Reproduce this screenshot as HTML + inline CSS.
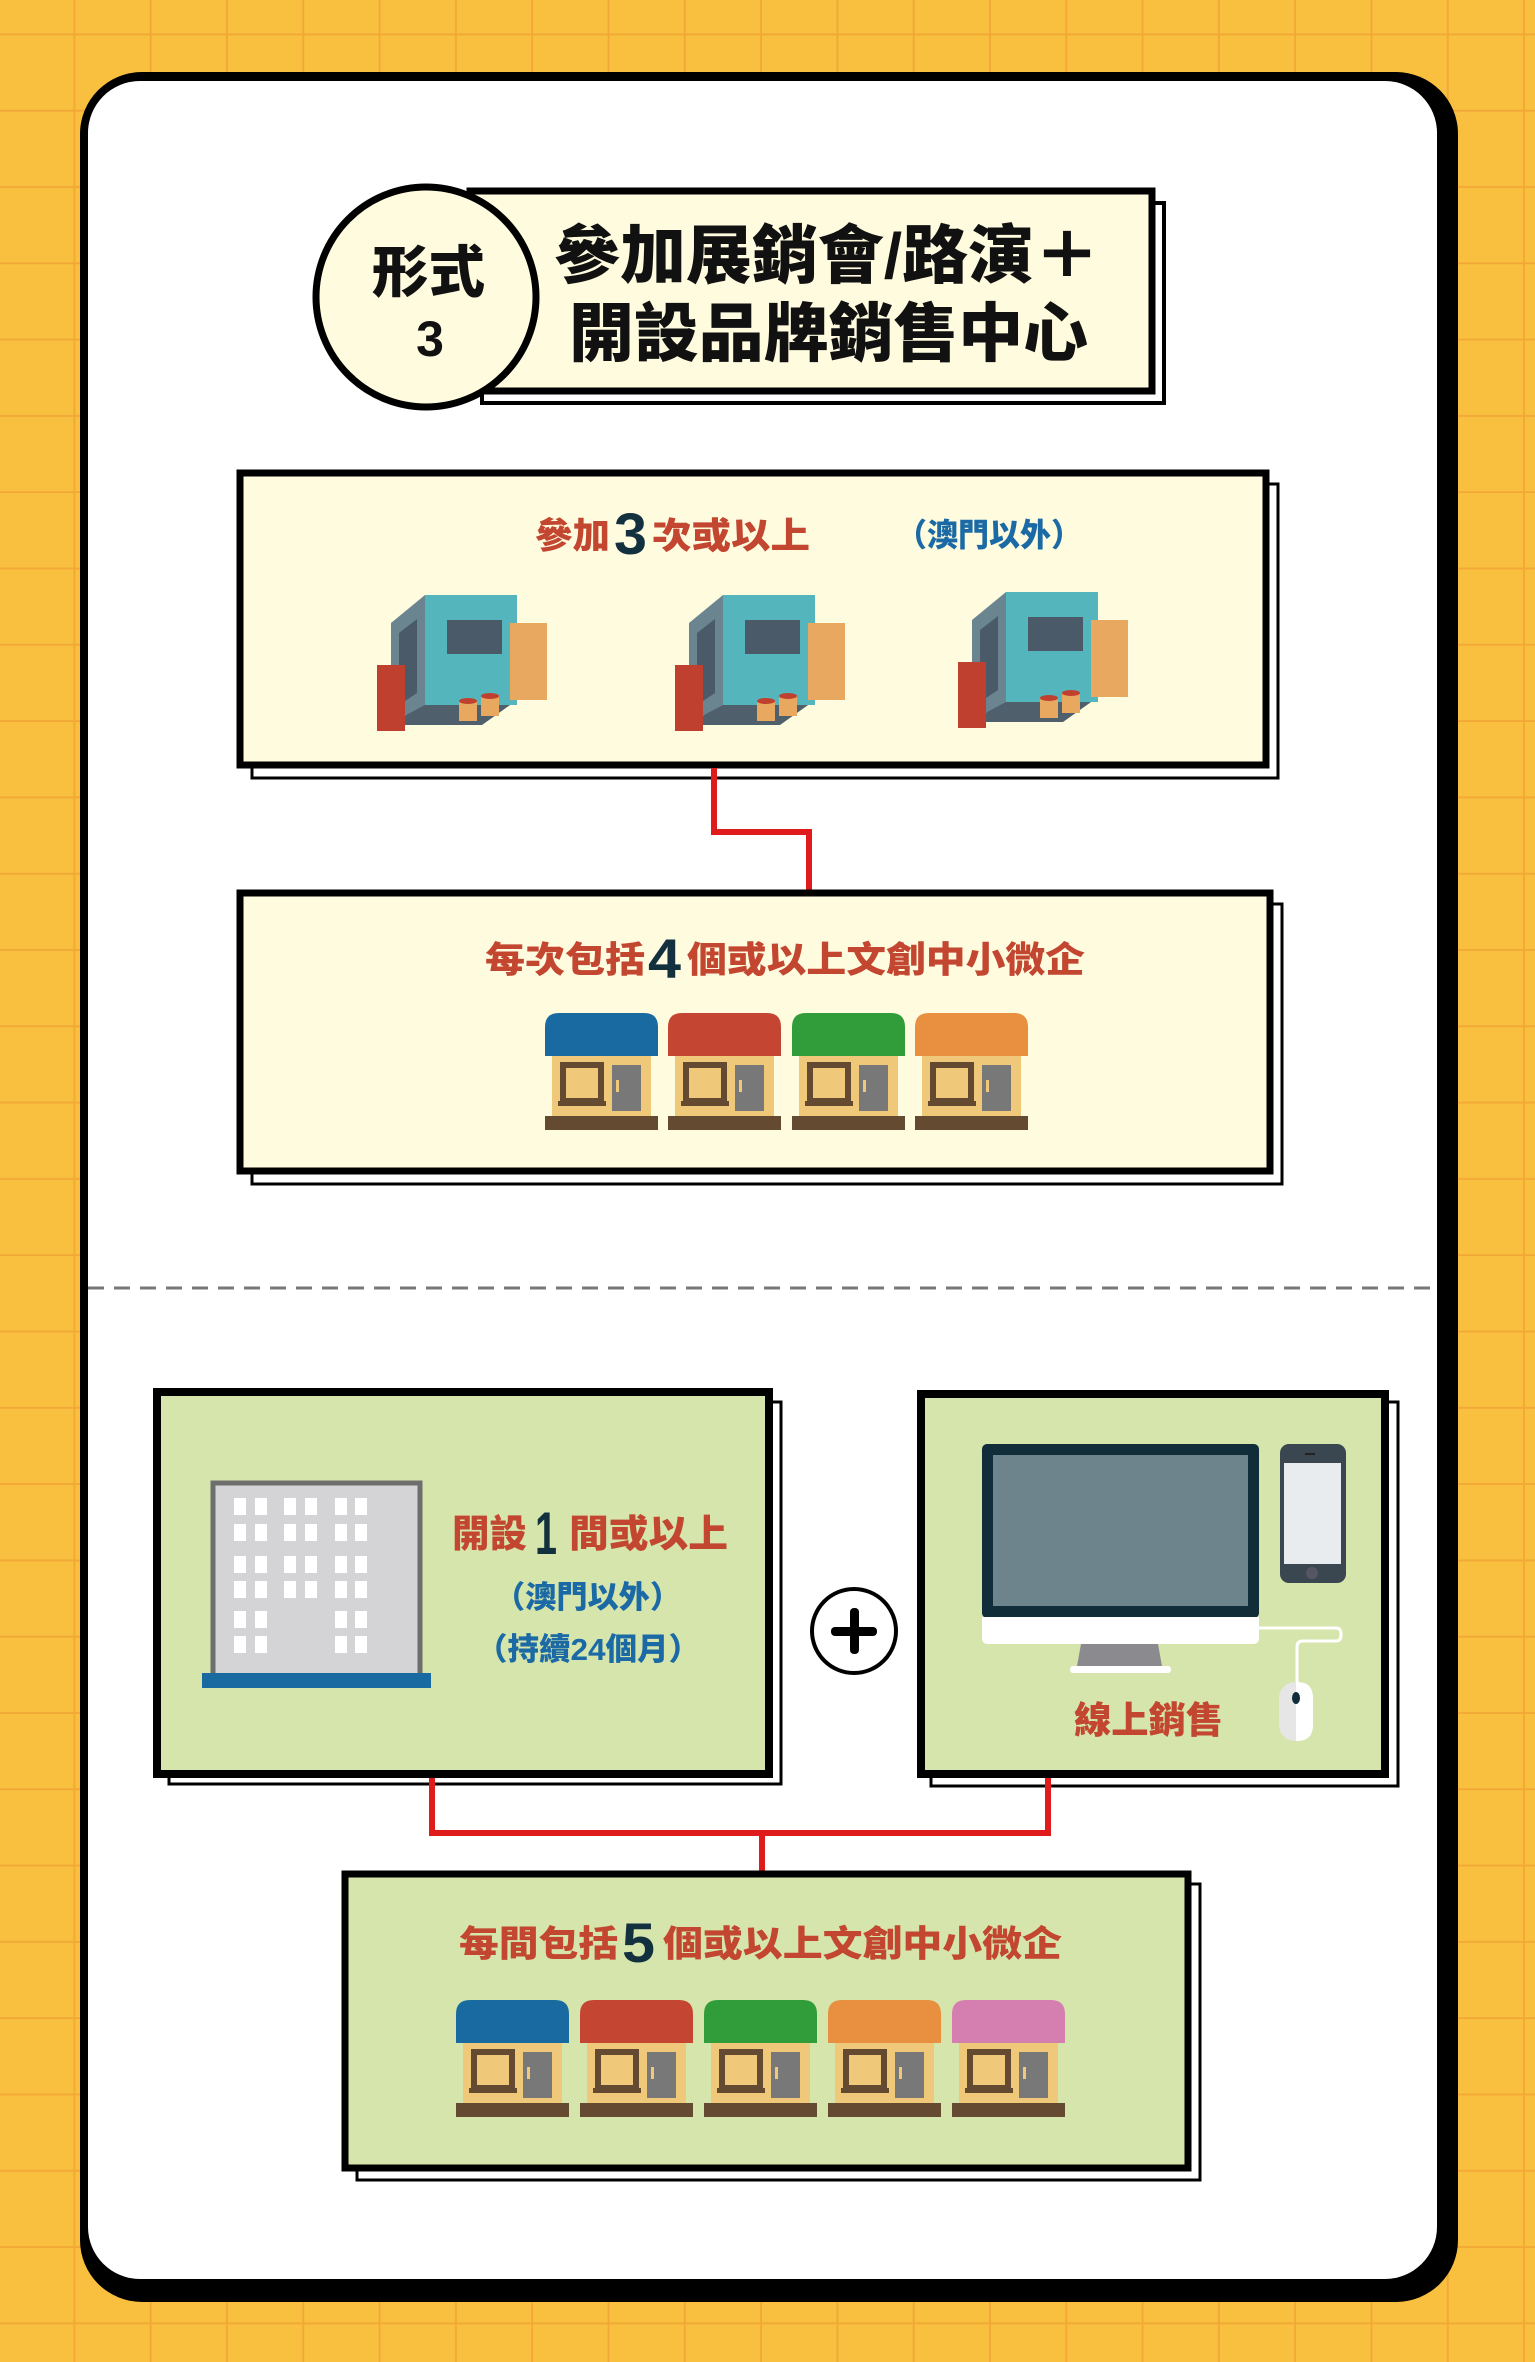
<!DOCTYPE html>
<html><head><meta charset="utf-8"><style>
html,body{margin:0;padding:0;width:1535px;height:2362px;overflow:hidden;background:#f8c03e}
svg{display:block}
text{font-family:"Liberation Sans","Noto Sans CJK TC","Noto Sans CJK SC",sans-serif;font-weight:900}
</style></head><body>
<svg width="1535" height="2362" viewBox="0 0 1535 2362" xmlns="http://www.w3.org/2000/svg">
<defs>
<pattern id="grid" x="-1" y="-41" width="76.3" height="76.3" patternUnits="userSpaceOnUse">
<rect width="76.3" height="76.3" fill="#f8c03e"/>
<rect x="74.5" y="0" width="3.2" height="76.3" fill="#f2a737"/>
<rect x="0" y="74.5" width="76.3" height="3.2" fill="#f2a737"/>
</pattern>
<g id="booth">
<polygon points="20,132 105,132 150,100 48,100" fill="#4f5f6b"/>
<polygon points="14,30 48,2 48,112 14,130" fill="#6b8590"/>
<polygon points="22,40 40,26 40,100 22,112" fill="#4a5a68"/>
<rect x="48" y="2" width="92" height="110" fill="#55b5bd"/>
<rect x="70" y="27" width="55" height="34" fill="#4a5a68"/>
<rect x="133" y="30" width="37" height="77" fill="#e8a860"/>
<rect x="0" y="72" width="28" height="66" fill="#c04030"/>
<rect x="82" y="108" width="18" height="20" fill="#e8a860"/><ellipse cx="91" cy="108" rx="9" ry="3" fill="#c04030"/>
<rect x="104" y="103" width="18" height="20" fill="#e8a860"/><ellipse cx="113" cy="103" rx="9" ry="3" fill="#c04030"/>
</g>
<g id="shopbody">
<rect x="7" y="43" width="99" height="62" fill="#f0c87a"/>
<rect x="18" y="52" width="38" height="36" fill="none" stroke="#634a30" stroke-width="6"/>
<rect x="13" y="88" width="48" height="5" fill="#634a30"/>
<rect x="67" y="52" width="29" height="46" fill="#787878"/>
<rect x="71" y="67" width="3" height="12" fill="#f0c87a"/>
<rect x="0" y="103" width="113" height="14" fill="#634a30"/>
</g>
</defs>
<rect width="1535" height="2362" fill="url(#grid)"/>
<rect x="80" y="72" width="1378" height="2230" rx="62" fill="#000"/>
<rect x="88" y="81" width="1349" height="2198" rx="52" fill="#fff"/>

<!-- title -->
<rect x="482" y="203" width="682" height="200" fill="#fff" stroke="#000" stroke-width="4"/>
<rect x="470" y="191" width="682" height="200" fill="#fefbdf" stroke="#000" stroke-width="7"/>
<circle cx="426" cy="297" r="110" fill="#fefbdf" stroke="#000" stroke-width="7"/>
<text x="372" y="292" font-size="56" textLength="113" lengthAdjust="spacingAndGlyphs" fill="#111">形式</text>
<text x="430" y="356" font-size="50" text-anchor="middle" fill="#111">3</text>
<text x="554" y="278" font-size="64" textLength="546" lengthAdjust="spacingAndGlyphs" fill="#111">參加展銷會/路演＋</text>
<text x="569" y="356" font-size="64" textLength="519" lengthAdjust="spacingAndGlyphs" fill="#111">開設品牌銷售中心</text>

<!-- box1 -->
<rect x="252" y="484" width="1026" height="294" fill="#fff" stroke="#000" stroke-width="3"/>
<rect x="240" y="473" width="1026" height="292" fill="#fefbdf" stroke="#000" stroke-width="7"/>
<text x="535" y="548" font-size="36" textLength="75" lengthAdjust="spacingAndGlyphs" fill="#c24630">參加</text>
<text x="614" y="554" font-size="58" textLength="33" lengthAdjust="spacingAndGlyphs" fill="#13303f">3</text>
<text x="652" y="548" font-size="36" textLength="158" lengthAdjust="spacingAndGlyphs" fill="#c24630">次或以上</text>
<text x="896" y="546" font-size="32" textLength="186" lengthAdjust="spacingAndGlyphs" fill="#1b6aa5">（澳門以外）</text>
<use href="#booth" x="377" y="593"/>
<use href="#booth" x="675" y="593"/>
<use href="#booth" x="958" y="590"/>

<polyline points="714,768 714,832 809,832 809,892" fill="none" stroke="#e01b1b" stroke-width="6"/>

<!-- box2 -->
<rect x="252" y="904" width="1030" height="280" fill="#fff" stroke="#000" stroke-width="3"/>
<rect x="240" y="893" width="1030" height="278" fill="#fefbdf" stroke="#000" stroke-width="7"/>
<text x="485" y="972" font-size="36" textLength="160" lengthAdjust="spacingAndGlyphs" fill="#c24630">每次包括</text>
<text x="648" y="978" font-size="56" textLength="33" lengthAdjust="spacingAndGlyphs" fill="#13303f">4</text>
<text x="687" y="972" font-size="36" textLength="398" lengthAdjust="spacingAndGlyphs" fill="#c24630">個或以上文創中小微企</text>
<g transform="translate(545,1013)"><path d="M0,43 V14 Q0,0 14,0 H99 Q113,0 113,14 V43 Z" fill="#196aa0"/><use href="#shopbody"/></g>
<g transform="translate(668,1013)"><path d="M0,43 V14 Q0,0 14,0 H99 Q113,0 113,14 V43 Z" fill="#c44532"/><use href="#shopbody"/></g>
<g transform="translate(792,1013)"><path d="M0,43 V14 Q0,0 14,0 H99 Q113,0 113,14 V43 Z" fill="#319d3a"/><use href="#shopbody"/></g>
<g transform="translate(915,1013)"><path d="M0,43 V14 Q0,0 14,0 H99 Q113,0 113,14 V43 Z" fill="#e88f40"/><use href="#shopbody"/></g>

<line x1="88" y1="1288" x2="1437" y2="1288" stroke="#777" stroke-width="3" stroke-dasharray="16,10"/>

<!-- box3 -->
<rect x="169" y="1402" width="612" height="382" fill="#fff" stroke="#000" stroke-width="3"/>
<rect x="157" y="1392" width="612" height="382" fill="#d5e5ac" stroke="#000" stroke-width="8"/>
<rect x="213" y="1483" width="207" height="194" fill="#d4d4d6" stroke="#6e6e6e" stroke-width="5"/>
<g fill="#fff">
<rect x="234" y="1498" width="12" height="17"/><rect x="255" y="1498" width="12" height="17"/>
<rect x="284" y="1498" width="12" height="17"/><rect x="305" y="1498" width="12" height="17"/>
<rect x="335" y="1498" width="12" height="17"/><rect x="355" y="1498" width="12" height="17"/>
<rect x="234" y="1524" width="12" height="17"/><rect x="255" y="1524" width="12" height="17"/>
<rect x="284" y="1524" width="12" height="17"/><rect x="305" y="1524" width="12" height="17"/>
<rect x="335" y="1524" width="12" height="17"/><rect x="355" y="1524" width="12" height="17"/>
<rect x="234" y="1556" width="12" height="17"/><rect x="255" y="1556" width="12" height="17"/>
<rect x="284" y="1556" width="12" height="17"/><rect x="305" y="1556" width="12" height="17"/>
<rect x="335" y="1556" width="12" height="17"/><rect x="355" y="1556" width="12" height="17"/>
<rect x="234" y="1581" width="12" height="17"/><rect x="255" y="1581" width="12" height="17"/>
<rect x="284" y="1581" width="12" height="17"/><rect x="305" y="1581" width="12" height="17"/>
<rect x="335" y="1581" width="12" height="17"/><rect x="355" y="1581" width="12" height="17"/>
<rect x="234" y="1611" width="12" height="17"/><rect x="255" y="1611" width="12" height="17"/>
<rect x="335" y="1611" width="12" height="17"/><rect x="355" y="1611" width="12" height="17"/>
<rect x="234" y="1636" width="12" height="17"/><rect x="255" y="1636" width="12" height="17"/>
<rect x="335" y="1636" width="12" height="17"/><rect x="355" y="1636" width="12" height="17"/>
</g>
<rect x="202" y="1673" width="229" height="15" fill="#196aa0"/>
<text x="452" y="1547" font-size="38" textLength="75" lengthAdjust="spacingAndGlyphs" fill="#c24630">開設</text>
<text x="535" y="1554" font-size="60" textLength="22" lengthAdjust="spacingAndGlyphs" fill="#13303f">1</text>
<text x="569" y="1547" font-size="38" textLength="159" lengthAdjust="spacingAndGlyphs" fill="#c24630">間或以上</text>
<text x="494" y="1608" font-size="31" textLength="187" lengthAdjust="spacingAndGlyphs" fill="#1b6aa5">（澳門以外）</text>
<text x="476" y="1660" font-size="31" textLength="224" lengthAdjust="spacingAndGlyphs" fill="#1b6aa5">（持續24個月）</text>

<circle cx="854" cy="1631" r="42" fill="#fff" stroke="#000" stroke-width="4"/>
<rect x="850" y="1608" width="9" height="46" rx="4" fill="#000"/>
<rect x="831" y="1627" width="46" height="9" rx="4" fill="#000"/>

<!-- box4 -->
<rect x="931" y="1402" width="467" height="384" fill="#fff" stroke="#000" stroke-width="3"/>
<rect x="921" y="1394" width="464" height="380" fill="#d5e5ac" stroke="#000" stroke-width="8"/>
<rect x="982" y="1444" width="277" height="174" rx="5" fill="#112d3a"/>
<rect x="993" y="1455" width="255" height="151" fill="#6d848d"/>
<path d="M982,1617 H1259 V1638 Q1259,1644 1253,1644 H988 Q982,1644 982,1638 Z" fill="#fff"/>
<polygon points="1081,1644 1158,1644 1162,1666 1077,1666" fill="#8b8b8f"/>
<rect x="1070" y="1666" width="101" height="7" rx="3" fill="#fff"/>
<rect x="1280" y="1444" width="66" height="139" rx="9" fill="#3a4650"/>
<rect x="1284" y="1463" width="57" height="101" fill="#e8ecee"/>
<rect x="1305" y="1453" width="10" height="2" fill="#222"/>
<circle cx="1312" cy="1573" r="6" fill="#556"/>
<path d="M1259,1628 H1336 Q1341,1628 1341,1634 V1635 Q1341,1641 1336,1641 H1303 Q1297,1641 1297,1647 V1685" fill="none" stroke="#fff" stroke-width="3"/>
<rect x="1279" y="1682" width="34" height="59" rx="16" fill="#e6e6e6"/>
<path d="M1296,1682 H1297 Q1313,1682 1313,1698 V1725 Q1313,1741 1297,1741 H1296 Z" fill="#fff"/>
<ellipse cx="1296" cy="1698" rx="4" ry="6" fill="#112d3a"/>
<text x="1074" y="1733" font-size="37" textLength="149" lengthAdjust="spacingAndGlyphs" fill="#c24630">線上銷售</text>

<polyline points="432,1778 432,1833 1048,1833 1048,1778" fill="none" stroke="#e01b1b" stroke-width="6"/>
<line x1="762" y1="1833" x2="762" y2="1872" stroke="#e01b1b" stroke-width="6"/>

<!-- box5 -->
<rect x="357" y="1884" width="843" height="296" fill="#fff" stroke="#000" stroke-width="3"/>
<rect x="345" y="1874" width="843" height="294" fill="#d5e5ac" stroke="#000" stroke-width="7"/>
<text x="459" y="1956" font-size="36" textLength="159" lengthAdjust="spacingAndGlyphs" fill="#c24630">每間包括</text>
<text x="622" y="1962" font-size="56" textLength="33" lengthAdjust="spacingAndGlyphs" fill="#13303f">5</text>
<text x="663" y="1956" font-size="36" textLength="399" lengthAdjust="spacingAndGlyphs" fill="#c24630">個或以上文創中小微企</text>
<g transform="translate(456,2000)"><path d="M0,43 V14 Q0,0 14,0 H99 Q113,0 113,14 V43 Z" fill="#196aa0"/><use href="#shopbody"/></g>
<g transform="translate(580,2000)"><path d="M0,43 V14 Q0,0 14,0 H99 Q113,0 113,14 V43 Z" fill="#c44532"/><use href="#shopbody"/></g>
<g transform="translate(704,2000)"><path d="M0,43 V14 Q0,0 14,0 H99 Q113,0 113,14 V43 Z" fill="#319d3a"/><use href="#shopbody"/></g>
<g transform="translate(828,2000)"><path d="M0,43 V14 Q0,0 14,0 H99 Q113,0 113,14 V43 Z" fill="#e88f40"/><use href="#shopbody"/></g>
<g transform="translate(952,2000)"><path d="M0,43 V14 Q0,0 14,0 H99 Q113,0 113,14 V43 Z" fill="#d47fb0"/><use href="#shopbody"/></g>
</svg>
</body></html>
